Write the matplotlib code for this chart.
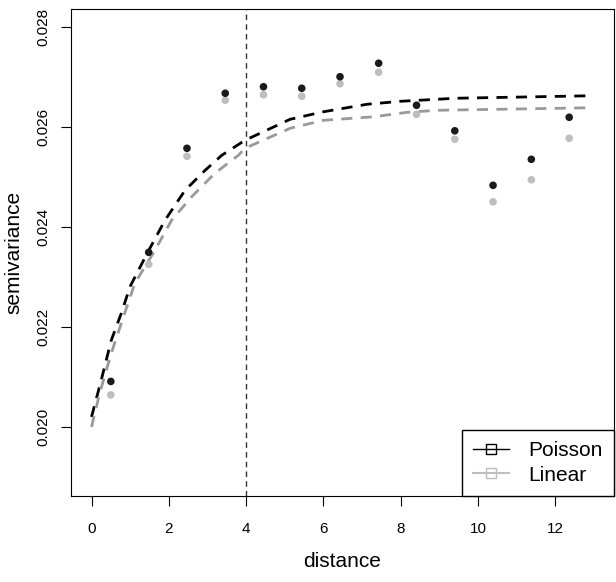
import matplotlib
matplotlib.use("Agg")
from matplotlib import pyplot as plt

plt.rcParams['font.family'] = ['Liberation Sans', 'DejaVu Sans']

# empirical semivariance
dist = [0.5, 1.48, 2.47, 3.46, 4.45, 5.44, 6.43, 7.43, 8.41, 9.40, 10.39, 11.38, 12.36]
poisson_pts = [0.02091, 0.02349, 0.02557, 0.02667, 0.02680, 0.02677, 0.02700, 0.02727,
               0.02643, 0.02592, 0.02483, 0.02535, 0.02619]
linear_pts = [0.02064, 0.02325, 0.02541, 0.02653, 0.02664, 0.02661, 0.02686, 0.02709,
              0.02625, 0.02575, 0.02450, 0.02494, 0.02577]

# fitted model lines
poisson_fx = [0, 0.25, 0.51, 0.77, 1.0, 1.46, 1.9, 2.42, 2.94, 3.37, 3.97, 5.14, 6.0,
              7.13, 8.0, 8.95, 9.4, 12.9]
poisson_fy = [0.0202, 0.02093, 0.02173, 0.02227, 0.02281, 0.0235, 0.02413, 0.02473,
              0.02513, 0.02543, 0.02573, 0.02615, 0.0263, 0.02645, 0.02651, 0.02655,
              0.02657, 0.02662]
linear_fx = [0, 0.21, 0.51, 0.77, 1.12, 1.64, 2.07, 2.59, 3.19, 3.8, 3.97, 5.14, 6.0,
             7.3, 8.17, 8.95, 12.9]
linear_fy = [0.0200, 0.02067, 0.02147, 0.02207, 0.02287, 0.02353, 0.02413, 0.0246,
             0.02507, 0.02543, 0.02557, 0.02597, 0.02613, 0.0262, 0.02629, 0.02633,
             0.02638]

cutoff = 4

fig = plt.figure(figsize=(6.16, 5.82), dpi=100)
ax = fig.add_axes([0.1153, 0.1478, 0.8815, 0.8367])

ax.plot(poisson_fx, poisson_fy, color='black', lw=2, ls=(0, (4, 3)))
ax.plot(linear_fx, linear_fy, color='#999999', lw=2, ls=(0, (4, 3)))
ax.scatter(dist, linear_pts, s=30, color='#bebebe', zorder=3, edgecolors='none')
ax.scatter(dist, poisson_pts, s=30, color='#1a1a1a', zorder=3, edgecolors='none')
ax.axvline(cutoff, color='#333333', lw=1, ls=(0, (4, 3)))

# legend handles
ax.plot([], [], color='black', marker='s', mfc='none', lw=1, ms=7.5, label='Poisson')
ax.plot([], [], color='#bebebe', marker='s', mfc='none', lw=1.5, ms=7.5, label='Linear')
leg = ax.legend(loc='lower right', borderaxespad=0, fancybox=False, framealpha=1,
                fontsize=15, handlelength=1.75, borderpad=0.55, handletextpad=0.9,
                labelspacing=0.25)
leg.get_frame().set_edgecolor('black')
leg.get_frame().set_linewidth(1)

ax.set_xlim(-0.53, 13.52)
ax.set_ylim(0.01862, 0.028354)
ax.set_xticks([0, 2, 4, 6, 8, 10, 12])
ax.set_yticks([0.020, 0.022, 0.024, 0.026, 0.028])
ax.set_yticklabels(['0.020', '0.022', '0.024', '0.026', '0.028'], rotation=90, va='center')
ax.tick_params(direction='out', length=7.5, labelsize=11)
ax.tick_params(axis='x', pad=11)
ax.tick_params(axis='y', pad=7.5)
ax.set_xlabel('distance', fontsize=15, labelpad=12)
ax.set_ylabel('semivariance', fontsize=15, labelpad=9)

plt.savefig('out.png', dpi=100)
